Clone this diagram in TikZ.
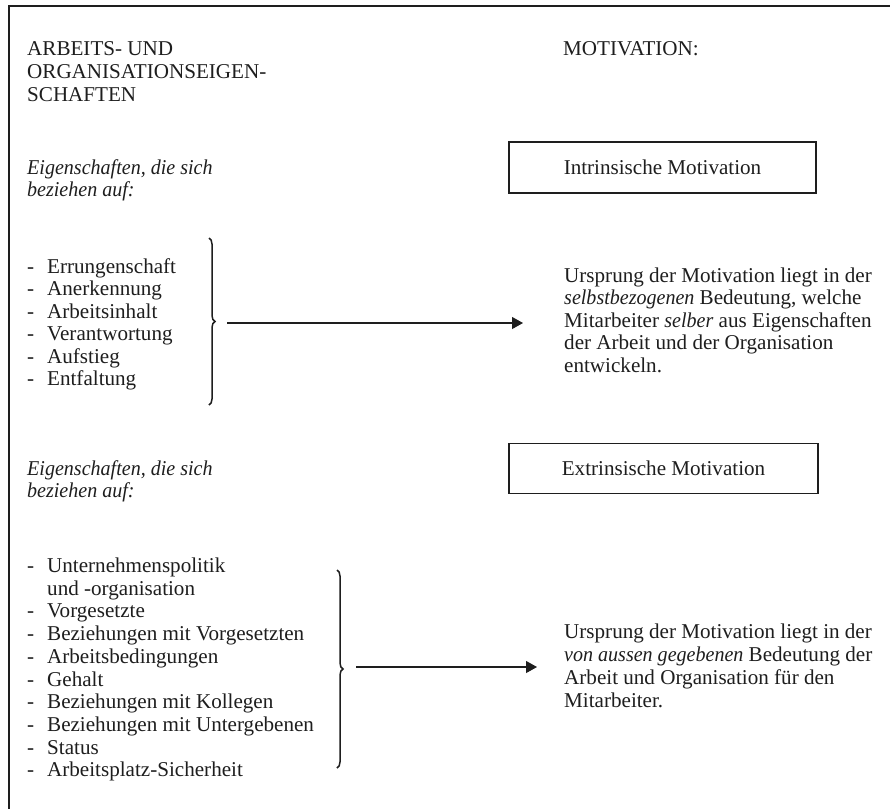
\documentclass[tikz,border=0pt]{standalone}
\usepackage{fontspec}
\setmainfont{Liberation Serif}[ItalicFeatures={FakeStretch=0.95}]
\usetikzlibrary{arrows.meta,decorations.pathreplacing}
\definecolor{ink}{HTML}{1E1E1E}
\newcommand{\itm}[1]{\makebox[20pt][l]{-}#1}
\newcommand{\cnt}[1]{\makebox[20pt][l]{}#1}
\begin{document}
\begin{tikzpicture}[x=1pt,y=-1pt,
  txt/.style={anchor=base west, inner sep=0pt, align=left, text=ink,
    font=\fontsize{21.1}{22.5}\selectfont},
  head/.style={txt, font=\fontsize{21.1}{23.4}\selectfont},
  lst/.style={txt, font=\fontsize{21.1}{22.4}\selectfont},
  subit/.style={txt, font=\fontsize{21.1}{22.3}\selectfont\itshape},
  motbox/.style={draw=ink, line width=1.3pt, inner sep=0pt, text=ink,
    font=\fontsize{21.1}{22.2}\selectfont},
  frame/.style={draw=ink, line width=1.8pt},
  arr/.style={draw=ink, line width=1.1pt, -{Triangle[length=11pt,width=12pt]}},
  brc/.style={draw=ink, line width=1.5pt, decorate, decoration={brace, amplitude=6pt}}
]
\useasboundingbox (0,0) rectangle (890,809);
\fill[white] (0,0) rectangle (890,809);

% frame (top and left edges)
\coordinate (ftl) at (9,6);
\coordinate (ftr) at (890,6);
\coordinate (fbl) at (9,809);
\draw[frame] (ftr) -- (ftl) -- (fbl);

% headings (anchor = baseline of last line)
\node[head] (hleft) at (27,101.8) {ARBEITS- UND\\ORGANISATIONSEIGEN-\\SCHAFTEN};
\node[head] (hright) at (563,55) {MOTIVATION:};

% upper part
\node[subit] (sub1) at (27,196.8) {Eigenschaften, die sich\\beziehen auf:};
\node[motbox, minimum width=307pt, minimum height=51pt] (intr) at (662.5,167.5) {Intrinsische Motivation};
\node[lst] (list1) at (27,385.5) {\itm{Errungenschaft}\\\itm{Anerkennung}\\\itm{Arbeitsinhalt}\\\itm{Verantwortung}\\\itm{Aufstieg}\\\itm{Entfaltung}};
\coordinate (b1top) at (209,238);
\coordinate (b1bot) at (209,405);
\draw[brc] (b1top) -- (b1bot);
\coordinate (b1tip) at (227,323);
\coordinate (a1end) at (523,323);
\draw[arr] (b1tip) -- (a1end);
\node[txt] (desc1) at (564,372) {Ursprung der Motivation liegt in der\\\textit{selbstbezogenen} Bedeutung, welche\\Mitarbeiter \textit{selber} aus Eigenschaften\\der Arbeit und der Organisation\\entwickeln.};

% lower part
\node[subit] (sub2) at (27,497.3) {Eigenschaften, die sich\\beziehen auf:};
\node[motbox, minimum width=309pt, minimum height=50pt] (extr) at (663.5,468.3) {Extrinsische Motivation};
\node[lst, font=\fontsize{21.1}{22.7}\selectfont] (list2) at (27,776.8) {\itm{Unternehmenspolitik}\\\cnt{und -organisation}\\\itm{Vorgesetzte}\\\itm{Beziehungen mit Vorgesetzten}\\\itm{Arbeitsbedingungen}\\\itm{Gehalt}\\\itm{Beziehungen mit Kollegen}\\\itm{Beziehungen mit Untergebenen}\\\itm{Status}\\\itm{Arbeitsplatz-Sicherheit}};
\coordinate (b2top) at (337,570);
\coordinate (b2bot) at (337,768);
\draw[brc] (b2top) -- (b2bot);
\coordinate (b2tip) at (356,667);
\coordinate (a2end) at (537,667);
\draw[arr] (b2tip) -- (a2end);
\node[txt, font=\fontsize{21.1}{23}\selectfont] (desc2) at (564,707) {Ursprung der Motivation liegt in der\\\textit{von aussen gegebenen} Bedeutung der\\Arbeit und Organisation für den\\Mitarbeiter.};
\end{tikzpicture}
\end{document}
